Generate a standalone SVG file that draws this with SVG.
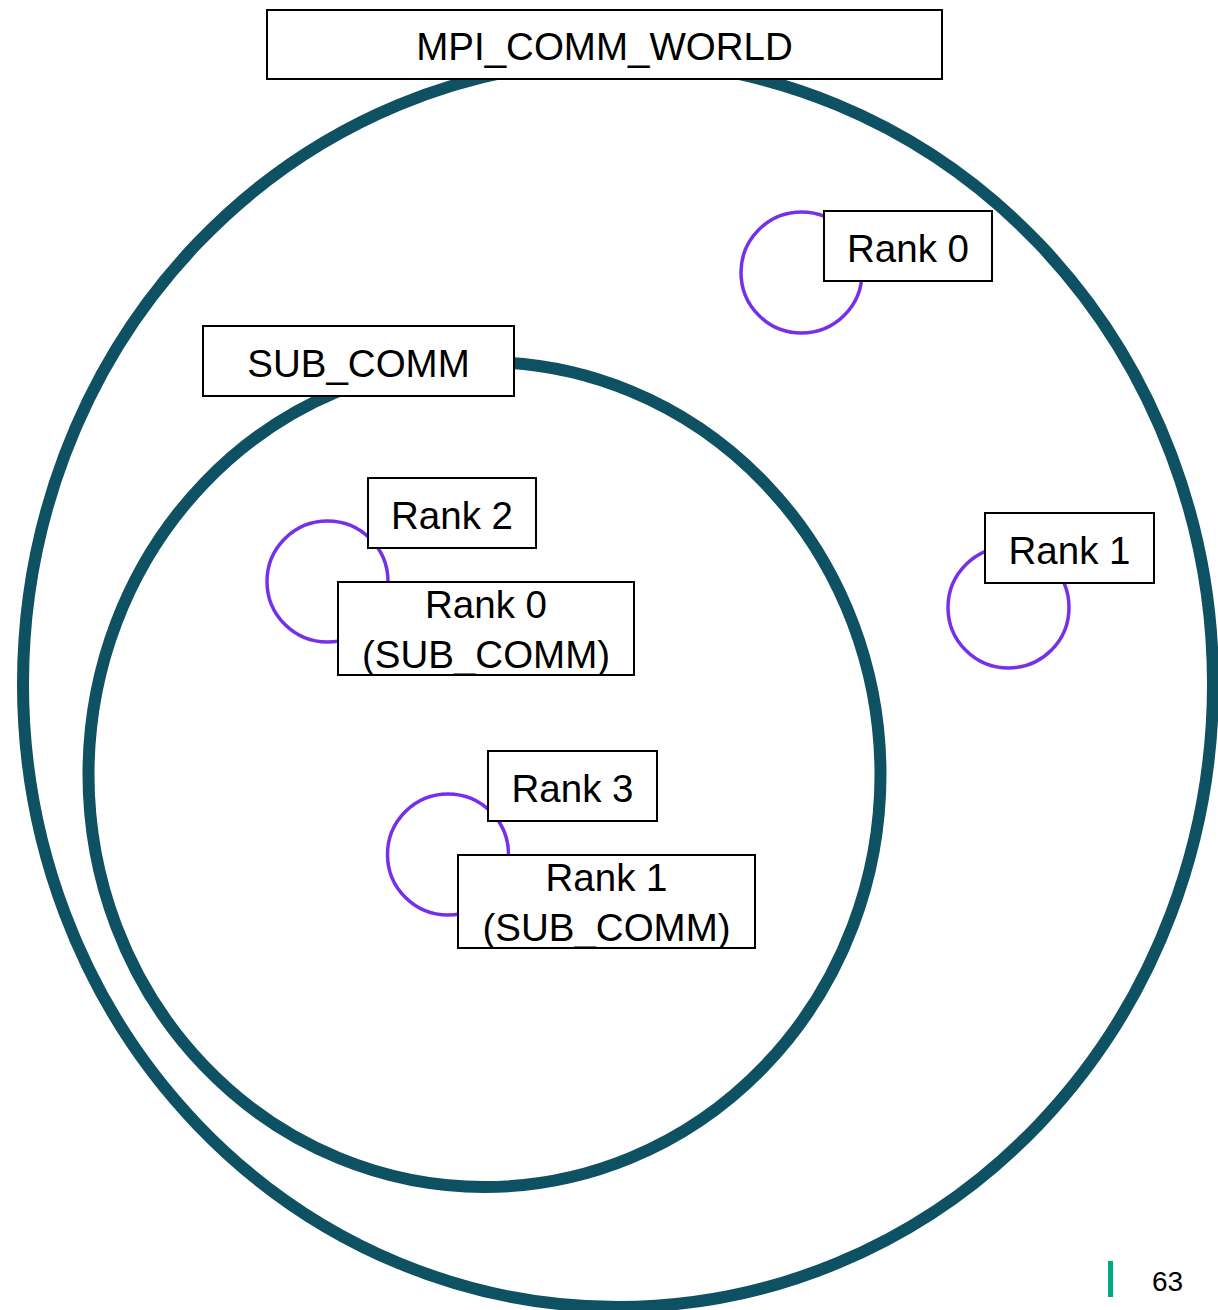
<svg xmlns="http://www.w3.org/2000/svg" width="1218" height="1310" viewBox="0 0 1218 1310">
  <style>
    .comm { fill: none; stroke: #0e5163; stroke-width: 12; }
    .proc { fill: none; stroke: #7630ea; stroke-width: 3.5; }
    .box { fill: #ffffff; stroke: #000000; stroke-width: 2; }
    .lbl { font-family: "Liberation Sans", Arial, sans-serif; font-size: 38.5px; fill: #000000; text-anchor: middle; }
    .pg { font-family: "Liberation Sans", Arial, sans-serif; font-size: 28px; fill: #000000; }
  </style>
  <rect width="1218" height="1310" fill="#ffffff"/>

  <!-- communicators -->
  <g id="world-ring">
    <ellipse class="comm" cx="618" cy="684" rx="595" ry="623"/>
  </g>
  <g id="sub-ring">
    <ellipse class="comm" cx="484.5" cy="774.5" rx="396" ry="412.5"/>
  </g>

  <!-- processes -->
  <g id="proc-world-0">
    <circle class="proc" cx="801.5" cy="272.5" r="60.5"/>
    <rect class="box" x="824" y="211" width="168" height="70"/>
    <text class="lbl" x="908" y="262">Rank 0</text>
  </g>
  <g id="proc-world-1">
    <circle class="proc" cx="1008.5" cy="607.5" r="60.5"/>
    <rect class="box" x="985" y="513" width="169" height="70"/>
    <text class="lbl" x="1069.5" y="564">Rank 1</text>
  </g>
  <g id="proc-world-2">
    <circle class="proc" cx="327.5" cy="581.5" r="60.5"/>
    <rect class="box" x="368" y="478" width="168" height="70"/>
    <text class="lbl" x="452" y="529">Rank 2</text>
    <rect class="box" x="338" y="582" width="296" height="93"/>
    <text class="lbl" x="486" y="618">Rank 0</text>
    <text class="lbl" x="486" y="668">(SUB_COMM)</text>
  </g>
  <g id="proc-world-3">
    <circle class="proc" cx="448" cy="854.5" r="60.5"/>
    <rect class="box" x="488" y="751" width="169" height="70"/>
    <text class="lbl" x="572.5" y="802">Rank 3</text>
    <rect class="box" x="458" y="855" width="297" height="93"/>
    <text class="lbl" x="606.5" y="891">Rank 1</text>
    <text class="lbl" x="606.5" y="941">(SUB_COMM)</text>
  </g>

  <!-- communicator titles -->
  <g id="world-title">
    <rect class="box" x="267" y="10" width="675" height="69"/>
    <text class="lbl" x="604.5" y="60">MPI_COMM_WORLD</text>
  </g>
  <g id="sub-title">
    <rect class="box" x="203" y="326" width="311" height="70"/>
    <text class="lbl" x="358.5" y="377">SUB_COMM</text>
  </g>

  <!-- connectors: none -->
  <g id="connectors"/>

  <!-- page footer -->
  <g id="footer">
    <rect x="1108" y="1261" width="5" height="36" fill="#01a982"/>
    <text class="pg" x="1152" y="1291">63</text>
  </g>
</svg>
